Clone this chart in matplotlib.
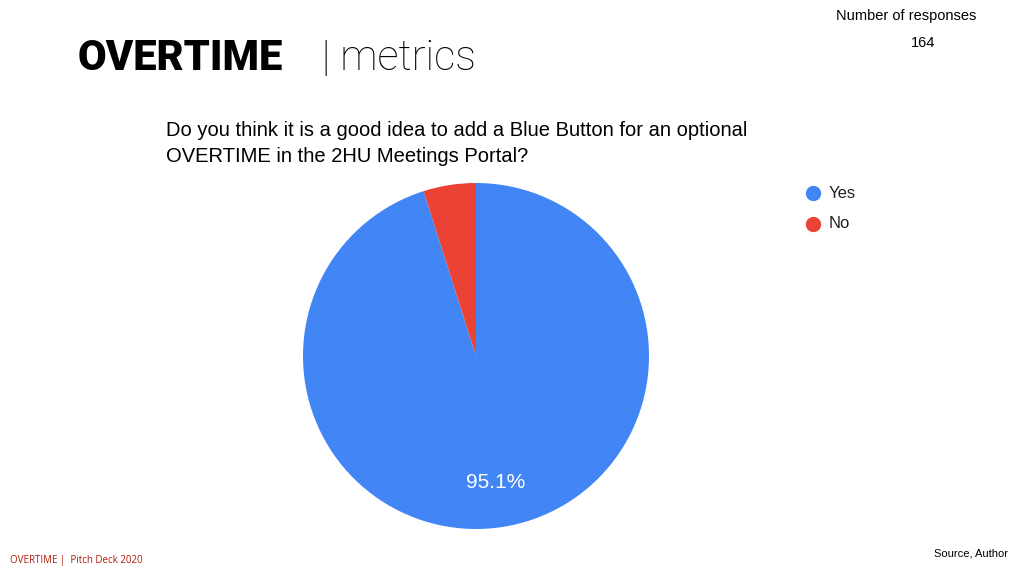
import matplotlib
matplotlib.use("Agg")
import matplotlib.pyplot as plt

labels = ["Yes", "No"]
values = [95.1, 4.9]
colors = ["#4285F4", "#EA4335"]

W, H = 1024, 576
fig = plt.figure(figsize=(10.24, 5.76), dpi=100)
fig.patch.set_facecolor("white")

def fx(x): return x / W
def fy(y): return 1 - y / H

cx, cy, r = 476, 356, 173
ax = fig.add_axes([fx(cx - r), fy(cy + r), 2 * r / W, 2 * r / H])
wedges, texts, autotexts = ax.pie(
    values, colors=colors, startangle=90, counterclock=False,
    autopct=lambda p: f"{p:.1f}%" if p > 10 else "", pctdistance=0.74,
    textprops=dict(color="white", fontsize=15, family="Liberation Sans"))
ax.set_aspect("equal")
ax.set_xlim(-1, 1); ax.set_ylim(-1, 1)

fig.text(fx(78), fy(58), "OVERTIME", fontsize=30, fontweight="black",
         family="Roboto", va="center", ha="left")
fig.text(fx(322), fy(58), "| metrics", fontsize=30, fontweight="light",
         family="Roboto", va="center", ha="left")

fig.text(fx(166), fy(130), "Do you think it is a good idea to add a Blue Button for an optional",
         fontsize=14.5, family="Liberation Sans", va="center")
fig.text(fx(166), fy(157), "OVERTIME in the 2HU Meetings Portal?",
         fontsize=14.5, family="Liberation Sans", va="center")

for i, (lab, col) in enumerate(zip(labels, colors)):
    y = 193 + 31 * i
    fig.add_artist(plt.Line2D([fx(813)], [fy(y)], marker="o", markersize=10,
                              color=col, linestyle="none"))
    fig.text(fx(829), fy(y), lab, fontsize=12, family="Liberation Sans", va="center", color="#222222")

fig.text(fx(906), fy(16), "Number of responses", fontsize=10.5, family="Liberation Sans",
         ha="center", va="center")
fig.text(fx(923), fy(43), "164", fontsize=10.5, family="Liberation Sans", ha="center", va="center")

fig.text(fx(10), fy(561), "OVERTIME |  Pitch Deck 2020", fontsize=7, color="#B01C0C",
         family="Open Sans", va="center")
fig.text(fx(1008), fy(554), "Source, Author", fontsize=8, family="Liberation Sans",
         ha="right", va="center")

fig.savefig("out.png", dpi=100, facecolor="white")
